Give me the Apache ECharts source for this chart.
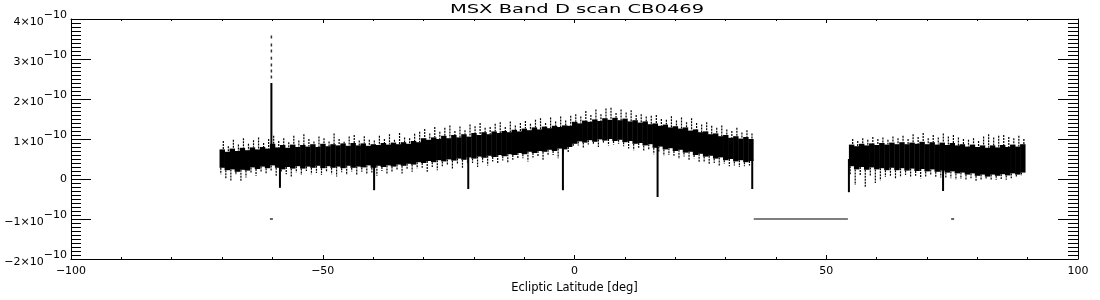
<!DOCTYPE html>
<html>
<head>
<meta charset="utf-8">
<script src="https://cdn.jsdelivr.net/npm/echarts@6/dist/echarts.min.js"></script>
<style>
  html, body { margin: 0; padding: 0; background: #fff; }
  #chart { width: 1100px; height: 300px; }
</style>
</head>
<body>
<div id="chart"></div>
<script>
// flux values are in units of 1e-10
var xTicks = [-100, -50, 0, 50, 100];
var yTicks = [-2, -1, 0, 1, 2, 3, 4];

// first scan segment, one sample per degree
var latA = [-70,-69,-68,-67,-66,-65,-64,-63,-62,-61,
  -60,-59,-58,-57,-56,-55,-54,-53,-52,-51,
  -50,-49,-48,-47,-46,-45,-44,-43,-42,-41,
  -40,-39,-38,-37,-36,-35,-34,-33,-32,-31,
  -30,-29,-28,-27,-26,-25,-24,-23,-22,-21,
  -20,-19,-18,-17,-16,-15,-14,-13,-12,-11,
  -10,-9,-8,-7,-6,-5,-4,-3,-2,-1,
  0,1,2,3,4,5,6,7,8,9,
  10,11,12,13,14,15,16,17,18,19,
  20,21,22,23,24,25,26,27,28,29,
  30,31,32,33,34,35];
var hiA = [0.74,0.68,0.76,0.70,0.78,0.72,0.79,0.74,0.80,0.76,
  0.88,0.79,0.85,0.78,0.86,0.80,0.85,0.81,0.87,0.80,
  0.88,0.82,0.87,0.84,0.89,0.83,0.90,0.84,0.89,0.83,
  0.87,0.85,0.90,0.86,0.91,0.87,0.92,0.88,0.95,0.92,
  1.02,0.98,1.04,1.00,1.08,1.02,1.10,1.04,1.12,1.06,
  1.15,1.10,1.17,1.12,1.19,1.15,1.20,1.17,1.23,1.19,
  1.26,1.22,1.29,1.24,1.31,1.27,1.33,1.30,1.34,1.33,
  1.43,1.39,1.46,1.43,1.49,1.45,1.52,1.48,1.53,1.47,
  1.51,1.44,1.47,1.41,1.44,1.37,1.39,1.33,1.36,1.29,
  1.32,1.26,1.29,1.21,1.24,1.17,1.19,1.12,1.14,1.07,
  1.10,1.03,1.07,1.01,1.05,1.00];
var loA = [0.28,0.22,0.24,0.18,0.23,0.21,0.29,0.25,0.31,0.27,
  0.34,0.28,0.24,0.30,0.26,0.32,0.26,0.31,0.28,0.33,
  0.27,0.32,0.28,0.31,0.27,0.33,0.28,0.31,0.29,0.34,
  0.28,0.33,0.30,0.34,0.31,0.36,0.33,0.38,0.36,0.42,
  0.40,0.45,0.42,0.47,0.44,0.49,0.46,0.51,0.48,0.54,
  0.51,0.56,0.53,0.58,0.55,0.60,0.57,0.62,0.60,0.65,
  0.62,0.68,0.65,0.70,0.68,0.73,0.70,0.76,0.74,0.80,
  0.88,0.94,0.91,0.97,0.93,0.99,0.96,1.00,0.95,0.98,
  0.92,0.95,0.88,0.90,0.84,0.87,0.78,0.81,0.74,0.77,
  0.70,0.73,0.66,0.68,0.60,0.63,0.56,0.58,0.51,0.54,
  0.47,0.50,0.44,0.47,0.42,0.45];
var outHiA = [0.95,0.82,0.98,0.86,1.02,0.88,0.97,1.04,0.90,1.00,
  1.08,0.95,1.02,0.92,1.08,0.96,1.12,1.00,0.94,1.06,
  1.02,0.94,1.14,1.00,0.93,1.06,1.10,0.96,1.07,0.98,
  0.96,1.08,1.00,1.12,0.98,1.15,1.04,1.02,1.13,1.18,
  1.25,1.14,1.30,1.18,1.28,1.34,1.20,1.31,1.22,1.36,
  1.32,1.40,1.28,1.30,1.38,1.42,1.30,1.44,1.34,1.40,
  1.45,1.38,1.48,1.52,1.40,1.54,1.44,1.56,1.46,1.58,
  1.62,1.56,1.70,1.60,1.74,1.62,1.76,1.78,1.65,1.74,
  1.66,1.72,1.60,1.62,1.56,1.58,1.60,1.50,1.48,1.57,
  1.46,1.54,1.42,1.52,1.40,1.36,1.42,1.33,1.28,1.34,
  1.24,1.20,1.28,1.16,1.22,1.14];
var outLoA = [0.12,0.02,-0.05,0.10,-0.06,0.04,0.14,0.08,0.16,0.12,
  0.20,0.08,0.16,0.12,0.06,0.16,0.10,0.20,0.12,0.15,
  0.10,0.18,0.12,0.06,0.17,0.10,0.19,0.11,0.18,0.12,
  0.16,0.08,0.20,0.12,0.18,0.22,0.14,0.24,0.18,0.26,
  0.28,0.18,0.30,0.22,0.32,0.34,0.24,0.36,0.28,0.38,
  0.40,0.30,0.42,0.34,0.44,0.38,0.46,0.40,0.48,0.50,
  0.52,0.44,0.54,0.57,0.48,0.58,0.60,0.52,0.62,0.66,
  0.82,0.84,0.76,0.86,0.88,0.80,0.90,0.84,0.86,0.88,
  0.82,0.76,0.72,0.78,0.70,0.72,0.62,0.68,0.58,0.60,
  0.58,0.50,0.56,0.46,0.52,0.42,0.44,0.38,0.40,0.34,
  0.38,0.32,0.34,0.30,0.32,0.34];

// second scan segment
var latB = [55,56,57,58,59,60,61,62,63,64,
  65,66,67,68,69,70,71,72,73,74,
  75,76,77,78,79,80,81,82,83,84,
  85,86,87,88,89];
var hiB = [0.86,0.82,0.88,0.84,0.89,0.85,0.90,0.86,0.91,0.87,
  0.92,0.87,0.91,0.88,0.93,0.87,0.92,0.86,0.91,0.85,
  0.90,0.84,0.87,0.81,0.86,0.80,0.84,0.78,0.84,0.79,
  0.85,0.80,0.86,0.81,0.87];
var loB = [0.32,0.24,0.30,0.23,0.29,0.24,0.27,0.22,0.28,0.22,
  0.27,0.21,0.26,0.20,0.25,0.19,0.24,0.18,0.21,0.16,
  0.19,0.14,0.16,0.11,0.14,0.08,0.11,0.06,0.11,0.08,
  0.12,0.09,0.14,0.11,0.16];
var outHiB = [1.00,0.95,1.02,0.98,1.05,1.00,1.04,0.98,1.06,1.02,
  1.08,1.00,1.12,1.05,1.15,1.02,1.10,1.04,1.14,1.06,
  1.10,1.04,1.00,0.98,1.02,0.95,1.06,1.12,1.04,1.08,
  1.10,1.05,1.02,1.08,1.00];
var outLoB = [0.10,-0.15,0.08,-0.20,0.06,-0.10,-0.04,0.05,0.08,0.00,
  0.06,0.10,0.04,0.08,0.02,0.06,0.10,0.05,0.04,0.02,
  0.02,-0.02,0.00,-0.04,0.02,-0.05,-0.02,0.00,-0.03,-0.02,
  0.00,-0.02,0.02,0.05,0.08];

// narrow dips through the band
var dipLat = [-58.5, -39.8, -21.1, -2.3, 16.5, 35.3, 54.5, 73.2];
var dipTop = [0.35, 0.35, 0.55, 0.75, 0.80, 0.50, 0.50, 0.30];
var dipLow = [-0.22, -0.28, -0.25, -0.28, -0.45, -0.25, -0.33, -0.30];

// source peak near -60 deg
var peakLat = -60.2;
var peakSolid = [0.80, 2.40];
var peakDots = [3.55, 3.35, 3.20, 3.02, 2.85, 2.70, 2.55];

// off-scale samples at -1e-10
var flatLine = [[35.6, -1], [54.3, -1]];
var strayDots = [[-60.2, -1], [75.1, -1]];

var band = [];
latA.forEach(function (x, i) { band.push([x, loA[i], hiA[i], outLoA[i], outHiA[i]]); });
latB.forEach(function (x, i) { band.push([x, loB[i], hiB[i], outLoB[i], outHiB[i]]); });

var dips = dipLat.map(function (x, i) { return [x, dipLow[i], dipTop[i]]; });
var peak = [[peakLat, peakSolid[0], peakSolid[1]]];
var peakPts = peakDots.map(function (v) { return [peakLat, v]; });

function renderBand(params, api) {
  var lat = api.value(0);
  var p1 = api.coord([lat - 0.5, api.value(2)]);
  var p2 = api.coord([lat + 0.5, api.value(1)]);
  var a1 = api.coord([lat + 0.25, api.value(4)]);
  var a2 = api.coord([lat + 0.25, api.value(2)]);
  var b1 = api.coord([lat - 0.25, api.value(1)]);
  var b2 = api.coord([lat - 0.25, api.value(3)]);
  return {
    type: 'group',
    children: [
      { type: 'rect', shape: { x: p1[0], y: p1[1], width: p2[0] - p1[0] + 0.4, height: p2[1] - p1[1] }, style: { fill: '#000' } },
      { type: 'line', shape: { x1: a1[0], y1: a1[1], x2: a2[0], y2: a2[1] }, style: { stroke: '#000', lineWidth: 1.2, lineDash: [2, 1] } },
      { type: 'line', shape: { x1: b1[0], y1: b1[1], x2: b2[0], y2: b2[1] }, style: { stroke: '#000', lineWidth: 1.2, lineDash: [2, 1] } }
    ]
  };
}

function renderStick(params, api) {
  var p1 = api.coord([api.value(0), api.value(1)]);
  var p2 = api.coord([api.value(0), api.value(2)]);
  return { type: 'line', shape: { x1: p1[0], y1: p1[1], x2: p2[0], y2: p2[1] }, style: { stroke: '#000', lineWidth: 2 } };
}

function yLabel(v) {
  if (v === 0) return '0';
  var s = v < 0 ? '\u2212' + Math.abs(v) : '' + v;
  return '{b|' + s + '\u00d710}{s|\u221210}';
}
function xLabel(v) {
  return v < 0 ? '\u2212' + Math.abs(v) : '' + v;
}

var font = 'DejaVu Sans';
var xCommon = {
  type: 'value', min: -100, max: 100, interval: 50,
  axisLine: { onZero: false, lineStyle: { color: '#000', width: 1 } },
  axisTick: { inside: true, length: 4, lineStyle: { color: '#000' } },
  minorTick: { show: true, splitNumber: 5, length: 2, lineStyle: { color: '#000' } },
  splitLine: { show: false }
};
var yCommon = {
  type: 'value', min: yTicks[0], max: yTicks[yTicks.length - 1], interval: 1,
  axisLine: { show: true, onZero: false, lineStyle: { color: '#000', width: 1 } },
  axisTick: { inside: true, length: 20, lineStyle: { color: '#000' } },
  minorTick: { show: true, splitNumber: 10, length: 10, lineStyle: { color: '#000' } },
  splitLine: { show: false }
};

var chart = echarts.init(document.getElementById('chart'));
chart.setOption({
  backgroundColor: '#fff',
  animation: false,
  graphic: [{
    type: 'text', x: 577, y: 3, scaleX: 1.5, silent: true,
    style: { text: 'MSX Band D scan CB0469', font: '13px "DejaVu Sans"', fill: '#000', textAlign: 'center', textVerticalAlign: 'top' }
  }],
  grid: { left: 71, right: 22, top: 19, bottom: 41 },
  xAxis: [
    Object.assign({}, xCommon, {
      position: 'bottom',
      axisLabel: { formatter: xLabel, margin: 7, fontFamily: font, fontSize: 11, color: '#000' },
      name: 'Ecliptic Latitude [deg]', nameLocation: 'middle', nameGap: 23,
      nameTextStyle: { fontFamily: font, fontSize: 11.5, color: '#000' }
    }),
    Object.assign({}, xCommon, { position: 'top', axisLabel: { show: false } })
  ],
  yAxis: [
    Object.assign({}, yCommon, {
      position: 'left',
      axisLabel: {
        formatter: yLabel, margin: 4, fontFamily: font, fontSize: 11, color: '#000',
        rich: {
          b: { fontFamily: font, fontSize: 11, color: '#000', verticalAlign: 'bottom' },
          s: { fontFamily: font, fontSize: 11, color: '#000', verticalAlign: 'top', padding: [0, 0, 7, 0] }
        }
      }
    }),
    Object.assign({}, yCommon, { position: 'right', axisLabel: { show: false } })
  ],
  series: [
    { type: 'custom', renderItem: renderBand, data: band, encode: { x: 0, y: [1, 2, 3, 4] }, clip: true, silent: true },
    { type: 'custom', renderItem: renderStick, data: dips, encode: { x: 0, y: [1, 2] }, clip: true, silent: true },
    { type: 'custom', renderItem: renderStick, data: peak, encode: { x: 0, y: [1, 2] }, clip: true, silent: true },
    { type: 'scatter', data: peakPts, symbol: 'rect', symbolSize: [1.5, 3], itemStyle: { color: '#000' }, silent: true },
    { type: 'line', data: flatLine, symbol: 'none', lineStyle: { color: '#000', width: 1.2 }, silent: true },
    { type: 'scatter', data: strayDots, symbol: 'rect', symbolSize: [3, 1.5], itemStyle: { color: '#000' }, silent: true }
  ]
});
</script>
</body>
</html>
